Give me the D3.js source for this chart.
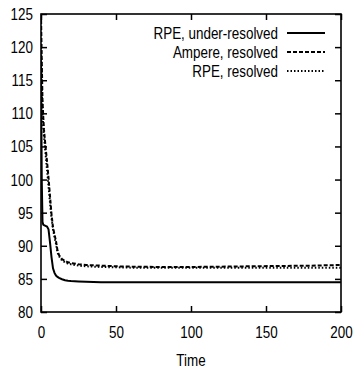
<!DOCTYPE html>
<html>
<head>
<meta charset="utf-8">
<script src="https://cdn.jsdelivr.net/npm/d3@7"></script>
<style>
  body { margin: 0; background: #fff; }
  text { font-family: "Liberation Sans", Arial, sans-serif; fill: #000; }
</style>
</head>
<body>
<div id="chart"></div>
<script>
// Tiempos de muestreo
const times = [0, 0.5, 1, 1.5, 2, 3, 4, 5, 6, 7, 8, 9, 10, 11, 12, 14, 16, 18, 20, 25, 30, 40, 50, 60, 80, 100, 120, 140, 160, 180, 200];

// Series
const rpeUnder = [118, 100, 93.6, 93.2, 93.1, 93.0, 92.9, 92.5, 90.5, 88.3, 86.6, 85.9, 85.5, 85.3, 85.15, 84.95, 84.8, 84.72, 84.67, 84.6, 84.55, 84.5, 84.5, 84.5, 84.5, 84.5, 84.5, 84.5, 84.5, 84.5, 84.5];
const ampereRes = [125, 118, 112, 109.5, 107.5, 105, 102.8, 100.3, 97.5, 94.8, 92.8, 91.7, 90.7, 89.3, 88.6, 88.0, 87.7, 87.5, 87.4, 87.2, 87.1, 87.0, 86.9, 86.85, 86.8, 86.8, 86.85, 86.9, 86.95, 87.0, 87.1];
const rpeRes = [121, 114, 110, 108, 106.5, 104, 101.5, 99, 96.5, 94.2, 92.5, 91.3, 90.3, 89.0, 88.4, 87.8, 87.5, 87.3, 87.2, 87.0, 86.9, 86.8, 86.75, 86.7, 86.7, 86.7, 86.7, 86.7, 86.7, 86.7, 86.7];

const seriesNames = ["RPE, under-resolved", "Ampere, resolved", "RPE, resolved"];
const xTicks = [0, 50, 100, 150, 200];
const yTicks = [80, 85, 90, 95, 100, 105, 110, 115, 120, 125];

const width = 355, height = 372;
const margin = { top: 14, right: 14, bottom: 60, left: 41 };
const iw = width - margin.left - margin.right;
const ih = height - margin.top - margin.bottom;

const svg = d3.select("#chart").append("svg")
  .attr("width", width).attr("height", height);
const g = svg.append("g").attr("transform", `translate(${margin.left},${margin.top})`);

const x = d3.scaleLinear().domain([0, 200]).range([0, iw]);
const y = d3.scaleLinear().domain([80, 125]).range([ih, 0]);

const fs = "17px";
const sx = 0.79; // letra estrecha (Helvetica Narrow)

// comprime el texto horizontalmente alrededor de su punto de anclaje
function narrow(sel) {
  sel.each(function () {
    const t = d3.select(this);
    const ax0 = +t.attr("x") || 0;
    t.attr("transform", `translate(${ax0 * (1 - sx)},0) scale(${sx},1)`);
  });
}

// Ejes con marcas hacia adentro (estilo gnuplot)
const ax = g.append("g").attr("transform", `translate(0,${ih})`)
  .call(d3.axisBottom(x).tickValues(xTicks).tickSize(-6).tickPadding(14));
const axTop = g.append("g")
  .call(d3.axisTop(x).tickValues(xTicks).tickSize(-6).tickFormat(""));
const ay = g.append("g")
  .call(d3.axisLeft(y).tickValues(yTicks).tickSize(-6).tickPadding(8));
const ayR = g.append("g").attr("transform", `translate(${iw},0)`)
  .call(d3.axisRight(y).tickValues(yTicks).tickSize(-6).tickFormat(""));

[ax, axTop, ay, ayR].forEach(a => {
  a.select(".domain").remove();
  a.selectAll("line").attr("stroke", "#000").attr("stroke-width", 1.5);
  a.selectAll("text").style("font-size", fs).call(narrow);
});

// Marco
g.append("rect").attr("width", iw).attr("height", ih)
  .attr("fill", "none").attr("stroke", "#000").attr("stroke-width", 1.6);

// Curvas
g.append("clipPath").attr("id", "clip").append("rect").attr("width", iw).attr("height", ih);

const styles = [
  { data: rpeUnder, dash: null },
  { data: ampereRes, dash: "4,2" },
  { data: rpeRes, dash: "1.5,2" }
];

const line = d3.line().x((d, i) => x(times[i])).y(d => y(d));

styles.forEach(s => {
  g.append("path")
    .attr("clip-path", "url(#clip)")
    .attr("d", line(s.data))
    .attr("fill", "none")
    .attr("stroke", "#000")
    .attr("stroke-width", 2)
    .attr("stroke-dasharray", s.dash);
});

// Leyenda
const legend = svg.append("g");
seriesNames.forEach((name, i) => {
  const cy = 33 + i * 19;
  legend.append("text")
    .attr("x", 278).attr("y", cy).attr("dy", "0.35em")
    .attr("text-anchor", "end")
    .style("font-size", fs)
    .text(name)
    .call(narrow);
  legend.append("line")
    .attr("x1", 287).attr("x2", 325).attr("y1", cy).attr("y2", cy)
    .attr("stroke", "#000").attr("stroke-width", 2)
    .attr("stroke-dasharray", styles[i].dash);
});

// Título del eje x
svg.append("text")
  .attr("x", margin.left + iw / 2).attr("y", 366)
  .attr("text-anchor", "middle")
  .style("font-size", fs)
  .text("Time")
  .call(narrow);
</script>
</body>
</html>
